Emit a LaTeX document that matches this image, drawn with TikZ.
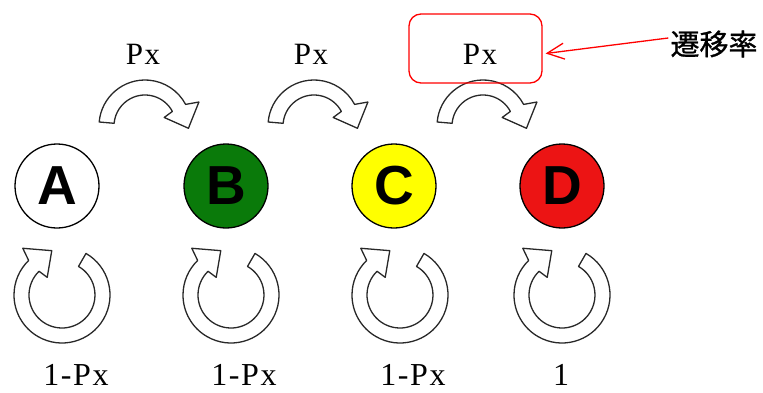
\documentclass[tikz,border=0pt]{standalone}
\usepackage{fontspec}
\setmainfont{Liberation Serif}
\newfontfamily\pxfont[LetterSpace=5]{Liberation Serif}
\newfontfamily\letterfont{Liberation Sans}
\newfontfamily\cjk[FakeBold=1]{Noto Sans CJK JP}
\usetikzlibrary{arrows.meta}
\definecolor{stgreen}{RGB}{10,122,10}
\definecolor{styellow}{RGB}{255,255,0}
\definecolor{stred}{RGB}{236,20,20}
\definecolor{bandline}{RGB}{40,40,40}
\tikzset{
  state/.style={circle, draw=black, line width=1.3pt, minimum size=84pt, inner sep=0pt,
    font=\letterfont\bfseries\fontsize{55}{55}\selectfont},
  band/.style={draw=bandline, fill=white, line width=1.3pt, line join=round},
  plabel/.style={font=\pxfont\fontsize{31}{31}\selectfont, inner sep=0pt, anchor=base},
  qlabel/.style={font=\pxfont\fontsize{32}{32}\selectfont, inner sep=0pt, anchor=base},
  notebox/.style={draw=red, line width=1.3pt, rounded corners=12pt, minimum width=133pt, minimum height=69pt, inner sep=0pt},
  notearrow/.style={draw=red, line width=1.3pt, -{Straight Barb[length=17pt,width=16pt,line width=1.3pt]}},
}
% #1 centre name, #2 tail angle, #3 head base angle (clockwise from tail), #4 outer radius, #5 inner radius
\newcommand\bandarrow[5]{%
  \draw[band] ([shift={(#2:#4)}]#1) arc[start angle=#2, end angle=#3, radius=#4]
    -- ([shift={(#3-4:#4+13)}]#1)
    -- ([shift={(#3-31:#4/2+#5/2+5)}]#1)
    -- ([shift={(#3-4:#5-10)}]#1)
    -- ([shift={(#3:#5)}]#1) arc[start angle=#3, end angle=#2, radius=#5] -- cycle;}
\begin{document}
\begin{tikzpicture}[x=1pt, y=1pt]
\useasboundingbox (0,0) rectangle (763,392);
% states
\node[state, fill=white]      (A) at (57,206)  {A};
\node[state, fill=stgreen]    (B) at (226,206) {B};
\node[state, fill=styellow]   (C) at (394,206) {C};
\node[state, fill=stred]      (D) at (562,206) {D};
% transition arrows
\coordinate (tAB) at (145,266);
\coordinate (tBC) at (314,266);
\coordinate (tCD) at (483,266);
\bandarrow{tAB}{175}{28}{46}{31}
\bandarrow{tBC}{175}{28}{46}{31}
\bandarrow{tCD}{175}{28}{46}{31}
\node[plabel] (pAB) at (143,327) {Px};
\node[plabel] (pBC) at (311,327) {Px};
\node[plabel] (pCD) at (480,327) {Px};
% self loops
\coordinate (lA) at (62,97);
\coordinate (lB) at (231,97);
\coordinate (lC) at (400,97);
\coordinate (lD) at (562,97);
\bandarrow{lA}{60}{-226}{48}{33}
\bandarrow{lB}{60}{-226}{48}{33}
\bandarrow{lC}{60}{-226}{48}{33}
\bandarrow{lD}{60}{-226}{48}{33}
\node[qlabel] (qA) at (76,7)  {1-Px};
\node[qlabel] (qB) at (244,7) {1-Px};
\node[qlabel] (qC) at (413,7) {1-Px};
\node[qlabel] (qD) at (561,7) {1};
% annotation
\node[notebox] (box) at (475.5,343.5) {};
\node[font=\cjk\fontsize{29}{29}\selectfont, inner sep=0pt] (note) at (714,348) {遷移率};
\draw[notearrow] ([xshift=-2pt,yshift=6pt]note.west) -- ([xshift=3pt,yshift=-5pt]box.east);
\end{tikzpicture}
\end{document}
